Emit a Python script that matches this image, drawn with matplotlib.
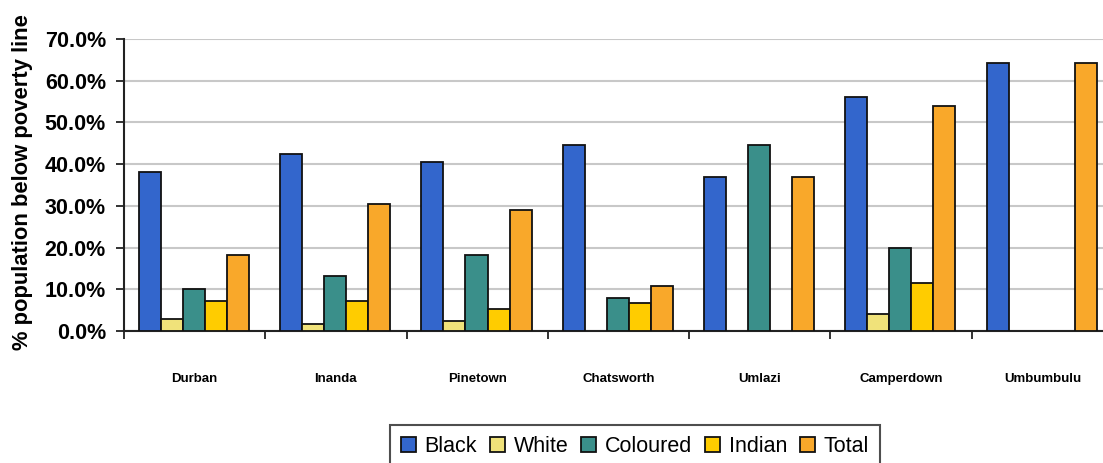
import matplotlib
matplotlib.use("Agg")
import matplotlib.pyplot as plt
import numpy as np
from matplotlib.ticker import FixedLocator, FuncFormatter

areas = ["Durban", "Inanda", "Pinetown", "Chatsworth", "Umlazi", "Camperdown", "Umbumbulu"]
black = [38.0, 42.5, 40.5, 44.5, 37.0, 56.0, 64.3]
white = [2.8, 1.7, 2.5, 0.0, 0.0, 4.0, 0.0]
coloured = [10.0, 13.2, 18.3, 8.0, 44.5, 20.0, 0.0]
indian = [7.2, 7.2, 5.3, 6.8, 0.0, 11.5, 0.0]
total = [18.3, 30.5, 29.0, 10.8, 37.0, 54.0, 64.3]
series_names = ["Black", "White", "Coloured", "Indian", "Total"]
series_vals = [black, white, coloured, indian, total]
colors = ["#3366CC", "#F0E27A", "#3A8F8A", "#FFCC00", "#F9A82A"]
yticks = [0, 10, 20, 30, 40, 50, 60, 70]

plt.rcParams['font.family'] = ['Liberation Sans', 'DejaVu Sans']

W, H = 1103, 463
fig = plt.figure(figsize=(W / 100, H / 100), dpi=100)
ax = fig.add_axes([124 / W, 1 - 331 / H, 989 / W, 292 / H])

n = len(series_names)
bw = 0.156
x = np.arange(len(areas)) + 0.495
for k, (name, vals, c) in enumerate(zip(series_names, series_vals, colors)):
    pos = x + (k - (n - 1) / 2) * bw
    v = np.array(vals)
    mask = v > 0
    ax.bar(pos[mask], v[mask], width=bw, color=c, edgecolor="#111111",
           linewidth=1.3, label=name, zorder=3)

ax.set_xlim(0, len(areas))
ax.set_ylim(0, 70)
ax.set_yticks(yticks)
ax.yaxis.set_major_formatter(FuncFormatter(lambda v, p: f"{v:.1f}%"))
ax.yaxis.grid(True, color="#C8C8C8", linewidth=1.5, zorder=0)
ax.set_axisbelow(True)

ax.set_xticks(np.arange(len(areas)) + 0.5)
ax.set_xticklabels(areas, fontsize=9.5, fontweight="bold")
ax.xaxis.set_minor_locator(FixedLocator(np.arange(len(areas) + 1)))
ax.tick_params(axis="x", which="major", length=0, pad=30)
ax.tick_params(axis="x", which="minor", length=6, width=1.3, color="#222222")
ax.tick_params(axis="y", which="major", length=6, width=1.3, color="#222222",
               labelsize=15.5, pad=7)
for lbl in ax.get_yticklabels():
    lbl.set_fontweight("bold")

for s in ["top", "right"]:
    ax.spines[s].set_visible(False)
for s in ["left", "bottom"]:
    ax.spines[s].set_linewidth(1.5)
    ax.spines[s].set_color("#222222")

ax.set_ylabel("% population below poverty line", fontsize=15.8, fontweight="bold")
ax.yaxis.set_label_coords(-0.092, 0.51)

leg = fig.legend(loc="upper center", bbox_to_anchor=(635 / W, 1 - 425 / H),
                 ncol=5, fontsize=15.5, frameon=True, fancybox=False,
                 edgecolor="#222222", handlelength=0.7, handleheight=0.7,
                 handletextpad=0.4, columnspacing=0.6, borderpad=0.5,
                 borderaxespad=0)
leg.get_frame().set_linewidth(1.5)

fig.savefig("out.png", dpi=100)
